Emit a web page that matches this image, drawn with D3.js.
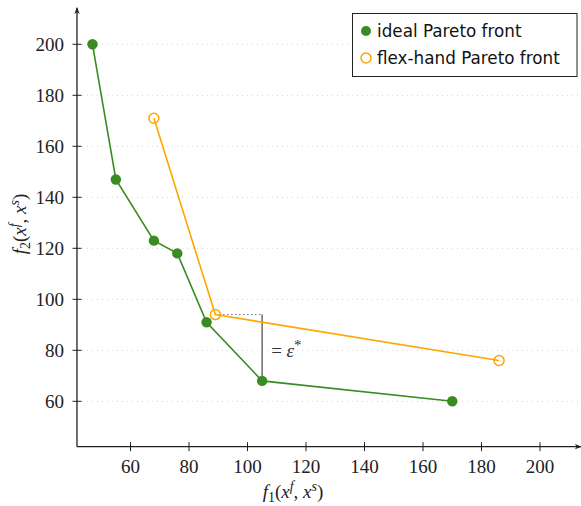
<!DOCTYPE html>
<html>
<head>
<meta charset="utf-8">
<script src="https://cdn.jsdelivr.net/npm/d3@7"></script>
<style>
  body { margin: 0; background: #fff; }
  svg { display: block; }
</style>
</head>
<body>
<script>
const width = 581;
const height = 506;

// data
const idealF1 = [47, 55, 68, 76, 86, 105, 170];
const idealF2 = [200, 147, 123, 118, 91, 68, 60];
const flexF1 = [68, 89, 186];
const flexF2 = [171, 94, 76];
const xTicks = [60, 80, 100, 120, 140, 160, 180, 200];
const yTicks = [60, 80, 100, 120, 140, 160, 180, 200];
const legendLabels = ['ideal Pareto front', 'flex-hand Pareto front'];

const green = '#3a8c22';
const orange = '#ffa500';
const serif = "'Liberation Serif', serif";
const sans = "'DejaVu Sans', sans-serif";

const x = d3.scaleLinear().domain([60, 200]).range([130.5, 540]);
const y = d3.scaleLinear().domain([60, 200]).range([401.3, 44.3]);
const xLo = 41.7, xHi = 214, yLo = 42.2, yHi = 214.3;

const svg = d3.select('body').append('svg')
    .attr('width', width)
    .attr('height', height);

svg.append('defs').append('marker')
    .attr('id', 'arrow')
    .attr('viewBox', '0 0 10 10')
    .attr('refX', 9).attr('refY', 5)
    .attr('markerWidth', 7).attr('markerHeight', 7)
    .attr('markerUnits', 'userSpaceOnUse')
    .attr('orient', 'auto')
    .append('path')
    .attr('d', 'M0,1 L10,5 L0,9 L3,5 Z')
    .attr('fill', '#222');

// grid
svg.append('g')
    .selectAll('line')
    .data(yTicks)
    .enter().append('line')
    .attr('x1', x(xLo)).attr('x2', x(xHi))
    .attr('y1', d => y(d)).attr('y2', d => y(d))
    .attr('stroke', '#c8c8c8')
    .attr('stroke-width', 0.8)
    .attr('stroke-dasharray', '1 4');

// axes
const axisColor = '#222';
svg.append('line')
    .attr('x1', x(xLo)).attr('x2', x(xHi))
    .attr('y1', y(yLo)).attr('y2', y(yLo))
    .attr('stroke', axisColor).attr('stroke-width', 1.3)
    .attr('marker-end', 'url(#arrow)');
svg.append('line')
    .attr('x1', x(xLo)).attr('x2', x(xLo))
    .attr('y1', y(yLo)).attr('y2', y(yHi))
    .attr('stroke', axisColor).attr('stroke-width', 1.3)
    .attr('marker-end', 'url(#arrow)');

const xt = svg.append('g').selectAll('g').data(xTicks).enter().append('g');
xt.append('line')
    .attr('x1', d => x(d)).attr('x2', d => x(d))
    .attr('y1', y(yLo) - 4.5).attr('y2', y(yLo) + 4.5)
    .attr('stroke', axisColor).attr('stroke-width', 1);
xt.append('text')
    .attr('x', d => x(d)).attr('y', y(yLo) + 26.5)
    .attr('text-anchor', 'middle')
    .style('font-family', serif).style('font-size', '19px').style('fill', '#222')
    .text(d => d);

const yt = svg.append('g').selectAll('g').data(yTicks).enter().append('g');
yt.append('line')
    .attr('x1', x(xLo) - 4.5).attr('x2', x(xLo) + 4.5)
    .attr('y1', d => y(d)).attr('y2', d => y(d))
    .attr('stroke', axisColor).attr('stroke-width', 1);
yt.append('text')
    .attr('x', x(xLo) - 13).attr('y', d => y(d) + 6.5)
    .attr('text-anchor', 'end')
    .style('font-family', serif).style('font-size', '19px').style('fill', '#222')
    .text(d => d);

// axis labels
function mathLabel(sel, sub) {
    sel.append('tspan').style('font-style', 'italic').text('f');
    sel.append('tspan').style('font-size', '14px').attr('dy', 4).text(sub);
    sel.append('tspan').attr('dy', -4).text('(');
    sel.append('tspan').style('font-style', 'italic').text('x');
    sel.append('tspan').style('font-style', 'italic').style('font-size', '14px').attr('dy', -7).text('f');
    sel.append('tspan').attr('dy', 7).text(', ');
    sel.append('tspan').style('font-style', 'italic').text('x');
    sel.append('tspan').style('font-style', 'italic').style('font-size', '14px').attr('dy', -7).text('s');
    sel.append('tspan').attr('dy', 7).text(')');
}

const xl = svg.append('text')
    .attr('x', 293).attr('y', 498)
    .attr('text-anchor', 'middle')
    .style('font-family', serif).style('font-size', '19px').style('fill', '#222');
mathLabel(xl, '1');

const yl = svg.append('text')
    .attr('transform', 'translate(26,224) rotate(-90)')
    .attr('text-anchor', 'middle')
    .style('font-family', serif).style('font-size', '19px').style('fill', '#222');
mathLabel(yl, '2');

// epsilon annotation
const iIdx = idealF1.indexOf(105);
svg.append('line')
    .attr('x1', x(flexF1[1])).attr('x2', x(idealF1[iIdx]))
    .attr('y1', y(flexF2[1])).attr('y2', y(flexF2[1]))
    .attr('stroke', '#333').attr('stroke-width', 1)
    .attr('stroke-dasharray', '1 3');
svg.append('line')
    .attr('x1', x(idealF1[iIdx])).attr('x2', x(idealF1[iIdx]))
    .attr('y1', y(flexF2[1])).attr('y2', y(idealF2[iIdx]))
    .attr('stroke', '#555').attr('stroke-width', 1.3);
const eps = svg.append('text')
    .attr('x', x(idealF1[iIdx]) + 9).attr('y', 357)
    .style('font-family', serif).style('font-size', '19px').style('fill', '#333');
eps.append('tspan').text('= ');
eps.append('tspan').style('font-style', 'italic').text('ε');
eps.append('tspan').style('font-size', '15px').attr('dy', -7).text('*');

// series
const ideal = idealF1.map((d, i) => [d, idealF2[i]]);
const flex = flexF1.map((d, i) => [d, flexF2[i]]);
const line = d3.line().x(d => x(d[0])).y(d => y(d[1]));

svg.append('path').datum(flex)
    .attr('d', line).attr('fill', 'none')
    .attr('stroke', orange).attr('stroke-width', 1.6);
svg.append('path').datum(ideal)
    .attr('d', line).attr('fill', 'none')
    .attr('stroke', green).attr('stroke-width', 1.6);

svg.append('g').selectAll('circle').data(ideal).enter().append('circle')
    .attr('cx', d => x(d[0])).attr('cy', d => y(d[1]))
    .attr('r', 5.2).attr('fill', green);
svg.append('g').selectAll('circle').data(flex).enter().append('circle')
    .attr('cx', d => x(d[0])).attr('cy', d => y(d[1]))
    .attr('r', 5).attr('fill', 'none')
    .attr('stroke', orange).attr('stroke-width', 1.5);

// legend
const lg = svg.append('g');
lg.append('rect')
    .attr('x', 352.5).attr('y', 13.5)
    .attr('width', 224.5).attr('height', 63)
    .attr('fill', '#fff').attr('stroke', '#222').attr('stroke-width', 1);
const rows = lg.selectAll('g').data(legendLabels).enter().append('g')
    .attr('transform', (d, i) => `translate(0,${31 + i * 27})`);
rows.append('circle')
    .attr('cx', 366).attr('cy', 0).attr('r', 5)
    .attr('fill', (d, i) => i === 0 ? green : 'none')
    .attr('stroke', (d, i) => i === 0 ? 'none' : orange)
    .attr('stroke-width', 1.5);
rows.append('text')
    .attr('x', 377).attr('y', 6)
    .style('font-family', sans).style('font-size', '16.8px').style('fill', '#111')
    .text(d => d);
</script>
</body>
</html>
